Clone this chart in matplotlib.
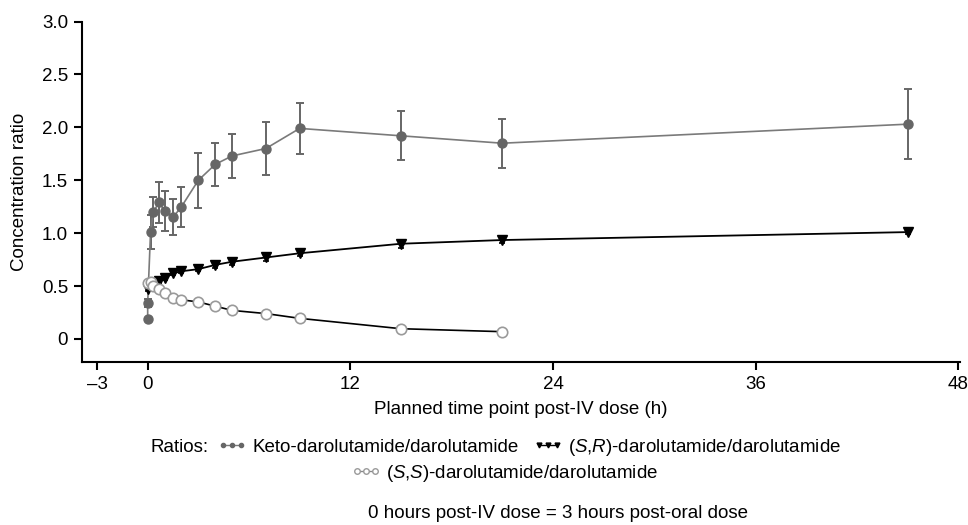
import matplotlib
matplotlib.use("Agg")
import matplotlib.pyplot as plt
from matplotlib.lines import Line2D

plt.rcParams['font.family'] = ['Liberation Sans', 'DejaVu Sans']
plt.rcParams['mathtext.fontset'] = 'custom'
plt.rcParams['mathtext.it'] = 'Liberation Sans:italic'
plt.rcParams['mathtext.rm'] = 'Liberation Sans'

# ---- data ----
time_keto = [0, 0, 0.17, 0.33, 0.67, 1, 1.5, 2, 3, 4, 5, 7, 9, 15, 21, 45]
keto = [0.19, 0.34, 1.01, 1.20, 1.29, 1.21, 1.15, 1.25, 1.50, 1.65, 1.73, 1.80, 1.99, 1.92, 1.85, 2.03]
keto_err = [0.0, 0.04, 0.16, 0.14, 0.19, 0.19, 0.17, 0.19, 0.26, 0.20, 0.21, 0.25, 0.24, 0.23, 0.23, 0.33]

time_sr = [0, 0.17, 0.33, 0.67, 1, 1.5, 2, 3, 4, 5, 7, 9, 15, 21, 45]
sr = [0.47, 0.50, 0.53, 0.55, 0.58, 0.62, 0.64, 0.66, 0.70, 0.73, 0.77, 0.81, 0.90, 0.935, 1.01]
sr_err = [0.02, 0.02, 0.02, 0.02, 0.02, 0.02, 0.02, 0.02, 0.03, 0.03, 0.03, 0.03, 0.04, 0.03, 0.02]

time_ss = [0, 0.17, 0.33, 0.67, 1, 1.5, 2, 3, 4, 5, 7, 9, 15, 21]
ss = [0.53, 0.54, 0.50, 0.47, 0.43, 0.39, 0.37, 0.35, 0.31, 0.27, 0.24, 0.195, 0.097, 0.069]

x_ticks = [-3, 0, 12, 24, 36, 48]
x_ticklabels = ['\u20133', '0', '12', '24', '36', '48']
y_ticks = [0, 0.5, 1.0, 1.5, 2.0, 2.5, 3.0]
y_ticklabels = ['0', '0.5', '1.0', '1.5', '2.0', '2.5', '3.0']

keto_label = 'Keto-darolutamide/darolutamide'
sr_label = '($\\mathit{S}$,$\\mathit{R}$)-darolutamide/darolutamide'
ss_label = '($\\mathit{S}$,$\\mathit{S}$)-darolutamide/darolutamide'

# ---- figure ----
fs = 13.5
fig = plt.figure(figsize=(9.68, 5.25), dpi=100)
ax = fig.add_axes([0.0847, 0.311, 0.9917 - 0.0847, 0.648])

gray = '#666666'
line_gray = '#7a7a7a'

ax.errorbar(time_keto, keto, yerr=keto_err, color=line_gray, ecolor=gray,
            elinewidth=1.4, capsize=3, capthick=1.4, lw=1.2,
            marker='o', ms=6.5, mfc=gray, mec=gray, zorder=3)
ax.errorbar(time_sr, sr, yerr=sr_err, color='black', ecolor='black',
            elinewidth=1.2, capsize=2.5, capthick=1.2, lw=1.3,
            marker='v', ms=6.5, mfc='black', mec='black', zorder=4)
ax.plot(time_ss, ss, color='black', lw=1.2, marker='o', ms=7.5,
        mfc='white', mec='#9a9a9a', mew=1.2, zorder=5)

ax.set_xlim(-3.89, 48.1)
ax.set_ylim(-0.215, 3.0)
ax.set_xticks(x_ticks)
ax.set_xticklabels(x_ticklabels)
ax.set_yticks(y_ticks)
ax.set_yticklabels(y_ticklabels)
for s in ['top', 'right']:
    ax.spines[s].set_visible(False)
for s in ['left', 'bottom']:
    ax.spines[s].set_linewidth(1.5)
ax.tick_params(axis='both', direction='out', length=6, width=1.5,
               labelsize=fs, pad=4, colors='black')

ax.set_xlabel('Planned time point post-IV dose (h)', fontsize=fs, labelpad=6)
ax.set_ylabel('Concentration ratio', fontsize=fs, labelpad=10)

# ---- legend ----
h_keto = Line2D([], [], color=line_gray, lw=1.0, marker='o', ms=3, mfc=gray, mec=gray)
h_sr = Line2D([], [], color='black', lw=1.0, marker='v', ms=3.5, mfc='black', mec='black')
h_ss = Line2D([], [], color='#8a8a8a', lw=1.0, marker='o', ms=4, mfc='white', mec='#9a9a9a')

fig.text(150 / 968, 1 - 447 / 525, 'Ratios:', fontsize=fs, ha='left', va='center')
common = dict(frameon=False, fontsize=fs, numpoints=3, handlelength=1.6,
              handletextpad=0.27, borderpad=0, borderaxespad=0, loc='center left')
leg1 = fig.legend([h_keto], [keto_label], bbox_to_anchor=(217 / 968, 1 - 447 / 525), **common)
leg2 = fig.legend([h_sr], [sr_label], bbox_to_anchor=(533 / 968, 1 - 447 / 525), **common)
leg3 = fig.legend([h_ss], [ss_label], bbox_to_anchor=(351 / 968, 1 - 473 / 525), **common)

fig.text(558 / 968, 1 - 513 / 525, '0 hours post-IV dose = 3 hours post-oral dose',
         fontsize=fs, ha='center', va='center')

fig.savefig('out.png', dpi=100)
